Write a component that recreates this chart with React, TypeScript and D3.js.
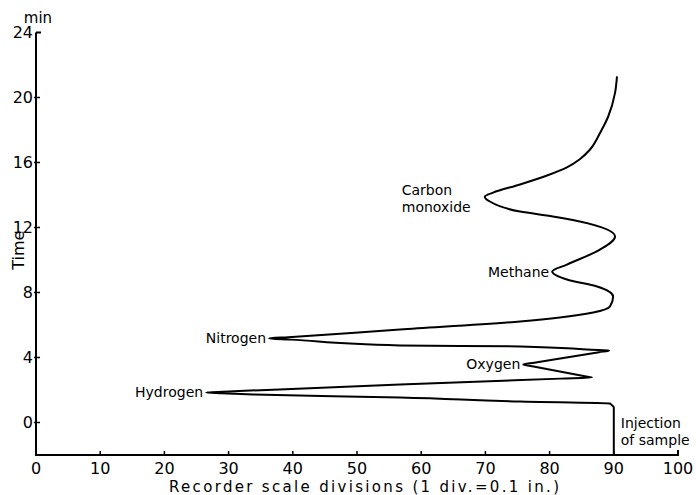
import React from "react";
import * as d3 from "d3";

// Chromatogram trace: recorder scale divisions vs time (min)
const recorder = [90, 90, 89.6, 89.4, 75.4, 56.7, 33.8, 29.0, 26.5, 30.8, 56.7, 81.7, 86.6, 85.5, 77.5, 75.9, 77.6, 87.7, 89.3, 86.5, 75.4, 56.7, 39.6, 36.3, 39.3, 56.7, 75.4, 81.6, 86.8, 89.4, 89.9, 87.4, 82.7, 80.4, 82.7, 87.9, 90.2, 84.7, 80.5, 75.4, 70.7, 69.9, 71.2, 75.4, 79.6, 82.7, 84.7, 86.3, 87.9, 89.1, 90.2, 90.5];
const time = [-2, 0.92, 1.1, 1.17, 1.29, 1.54, 1.72, 1.8, 1.85, 1.92, 2.34, 2.7, 2.77, 2.85, 3.45, 3.57, 3.68, 4.33, 4.43, 4.48, 4.68, 4.74, 5.1, 5.17, 5.25, 5.72, 6.22, 6.46, 6.77, 7.14, 7.75, 8.37, 8.8, 9.29, 9.72, 10.65, 11.45, 12.37, 12.68, 12.98, 13.6, 13.9, 14.15, 14.65, 15.2, 15.7, 16.2, 16.8, 17.85, 18.8, 20.3, 21.3];

const xTicks = [0, 10, 20, 30, 40, 50, 60, 70, 80, 90, 100];
const yTicks = [0, 4, 8, 12, 16, 20, 24];

const peakNames = ["Hydrogen", "Nitrogen", "Oxygen", "Methane"];
const peakRecorder = [26.5, 36.3, 75.9, 80.4];
const peakTime = [1.85, 5.17, 3.57, 9.29];

const coLines = ["Carbon", "monoxide"];
const coRecorder = 69.9;
const coTime = 13.9;

const injectionLines = ["Injection", "of sample"];
const injectionRecorder = 90;

const xTitle = "Recorder scale divisions (1 div.=0.1 in.)";
const yTitle = "Time";
const yUnit = "min";

const FONT = "'DejaVu Sans', sans-serif";

export default function App() {
  const x = d3.scaleLinear().domain([0, 100]).range([36, 678]);
  const y = d3.scaleLinear().domain([-2, 24]).range([455, 32.5]);

  const pts: [number, number][] = recorder.map((v, i) => [v, time[i]]);
  const line = d3
    .line<[number, number]>()
    .x((d) => x(d[0]))
    .y((d) => y(d[1]))
    .curve(d3.curveMonotoneY);

  const x0 = x(0);
  const yBottom = y(-2);

  return (
    <svg
      width={696}
      height={495}
      style={{ position: "absolute", left: 0, top: 0, background: "#fff" }}
      fontFamily={FONT}
    >
      {/* axes */}
      <path
        d={`M${x0},${y(24)}H${x0 + 5}M${x0},${y(24)}V${yBottom}H${x(100)}V${yBottom - 5}`}
        fill="none"
        stroke="#000"
        strokeWidth={2}
      />
      {yTicks.map((t) => (
        <g key={"yt" + t}>
          {t !== 24 && (
            <line x1={x0 - 2} x2={x0 + 4} y1={y(t)} y2={y(t)} stroke="#000" strokeWidth={1.5} />
          )}
          <text x={x0 - 3} y={y(t)} textAnchor="end" dominantBaseline="central" fontSize={16}>
            {t}
          </text>
        </g>
      ))}
      {xTicks.map((v) => (
        <g key={"xt" + v}>
          {v !== 0 && v !== 100 && (
            <line x1={x(v)} x2={x(v)} y1={yBottom} y2={yBottom - 4} stroke="#000" strokeWidth={1.5} />
          )}
          <text x={x(v)} y={yBottom + 13} textAnchor="middle" dominantBaseline="central" fontSize={16}>
            {v}
          </text>
        </g>
      ))}
      <text x={38} y={18} textAnchor="middle" dominantBaseline="central" fontSize={15}>
        {yUnit}
      </text>
      <text
        transform={`translate(18,${y(10.6)}) rotate(-90)`}
        textAnchor="middle"
        dominantBaseline="central"
        fontSize={16}
      >
        {yTitle}
      </text>
      <text
        x={169}
        y={487}
        dominantBaseline="central"
        fontSize={15}
        textLength={390}
        lengthAdjust="spacing"
      >
        {xTitle}
      </text>

      {/* trace */}
      <path d={line(pts) || ""} fill="none" stroke="#000" strokeWidth={2} strokeLinejoin="round" />

      {/* peak labels */}
      {peakNames.map((n, i) => (
        <text
          key={n}
          x={x(peakRecorder[i]) - 3}
          y={y(peakTime[i])}
          textAnchor="end"
          dominantBaseline="central"
          fontSize={14}
        >
          {n}
        </text>
      ))}
      {coLines.map((s, i) => (
        <text
          key={s}
          x={x(coRecorder) - 83}
          y={y(coTime) - 7 + i * 17}
          dominantBaseline="central"
          fontSize={14}
        >
          {s}
        </text>
      ))}
      {injectionLines.map((s, i) => (
        <text
          key={s}
          x={x(injectionRecorder) + 7}
          y={y(0) + i * 17}
          dominantBaseline="central"
          fontSize={14}
        >
          {s}
        </text>
      ))}
    </svg>
  );
}
